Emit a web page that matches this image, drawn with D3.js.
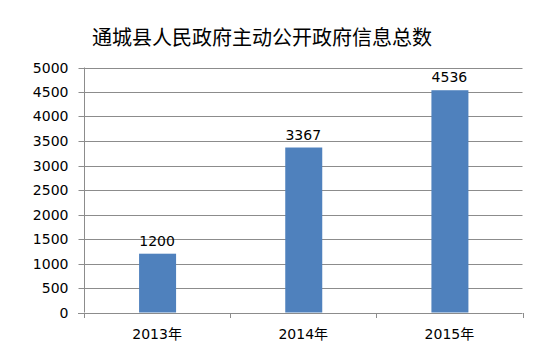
<!DOCTYPE html>
<html>
<head>
<meta charset="utf-8">
<script src="https://cdn.jsdelivr.net/npm/d3@7"></script>
<style>
  body { margin: 0; background: #fff; }
  svg { display: block; font-family: "Liberation Sans", "Noto Sans CJK SC", sans-serif; }
  .title { font-family: "Noto Sans CJK SC", serif; font-size: 20px; fill: #000; }
  .axis text { font-size: 14px; fill: #000; font-family: "DejaVu Sans", "Noto Sans CJK SC", sans-serif; }
  .label { font-size: 14px; fill: #000; font-family: "DejaVu Sans", sans-serif; }
</style>
</head>
<body>
<script>
var w = 557;
var h = 357;

var title = '通城县人民政府主动公开政府信息总数';
var years = ['2013年', '2014年', '2015年'];
var counts = [1200, 3367, 4536];
var yTicks = [0, 500, 1000, 1500, 2000, 2500, 3000, 3500, 4000, 4500, 5000];

var mLeft = 84, mRight = 522.5, mTop = 67.5, mBottom = 312.5;

var svg = d3.select('body')
  .append('svg')
  .attr('width', w)
  .attr('height', h);

svg.append('rect')
  .attr('width', w)
  .attr('height', h)
  .attr('fill', '#fff');

svg.append('text')
  .attr('class', 'title')
  .attr('x', 262)
  .attr('y', 45)
  .attr('text-anchor', 'middle')
  .text(title);

var x = d3.scaleBand()
  .domain(years)
  .range([mLeft, mRight])
  .paddingInner(0)
  .paddingOuter(0);

var y = d3.scaleLinear()
  .domain([0, 5000])
  .range([mBottom, mTop]);

// gridlines
svg.append('g')
  .selectAll('line')
  .data(yTicks.slice(1))
  .enter()
  .append('line')
  .attr('x1', mLeft)
  .attr('x2', mRight)
  .attr('y1', function(d) { return Math.round(y(d)) + 0.5; })
  .attr('y2', function(d) { return Math.round(y(d)) + 0.5; })
  .attr('stroke', '#8c8c8c')
  .attr('stroke-width', 1);

// y axis
var yAxis = svg.append('g')
  .attr('class', 'axis')
  .attr('transform', 'translate(' + (mLeft + 0.5) + ',0)')
  .call(d3.axisLeft(y).tickValues(yTicks).tickFormat(d3.format('d')).tickSize(6).tickPadding(10));
yAxis.selectAll('line, path').attr('stroke', '#8c8c8c');
yAxis.select('.domain').attr('d', 'M0,' + mTop + 'V' + mBottom);
yAxis.selectAll('.tick')
  .attr('transform', function(d) { return 'translate(0,' + (Math.round(y(d)) + 0.5) + ')'; });

// bars
var bw = 37;
svg.append('g')
  .selectAll('rect')
  .data(counts)
  .enter()
  .append('rect')
  .attr('x', function(d, i) { return x(years[i]) + x.bandwidth() / 2 - bw / 2 + 0.5; })
  .attr('y', function(d) { return y(d); })
  .attr('width', bw)
  .attr('height', function(d) { return mBottom - y(d); })
  .attr('fill', '#4f81bd');

// x axis
var xAxis = svg.append('g')
  .attr('class', 'axis')
  .attr('transform', 'translate(0,' + (Math.round(mBottom) + 0.5) + ')')
  .call(d3.axisBottom(x).tickSize(0).tickPadding(16));
xAxis.selectAll('path').attr('stroke', '#8c8c8c').attr('d', 'M' + (mLeft - 6) + ',0H' + mRight);

svg.append('g')
  .selectAll('line')
  .data([mLeft].concat(years.map(function(d) { return x(d) + x.bandwidth(); })))
  .enter()
  .append('line')
  .attr('x1', function(d) { return Math.round(d) + 0.5; })
  .attr('x2', function(d) { return Math.round(d) + 0.5; })
  .attr('y1', Math.round(mBottom))
  .attr('y2', Math.round(mBottom) + 5)
  .attr('stroke', '#8c8c8c');

// value labels
svg.append('g')
  .selectAll('text')
  .data(counts)
  .enter()
  .append('text')
  .attr('class', 'label')
  .attr('x', function(d, i) { return x(years[i]) + x.bandwidth() / 2; })
  .attr('y', function(d) { return y(d) - 8; })
  .attr('text-anchor', 'middle')
  .text(function(d) { return d; });
</script>
</body>
</html>
